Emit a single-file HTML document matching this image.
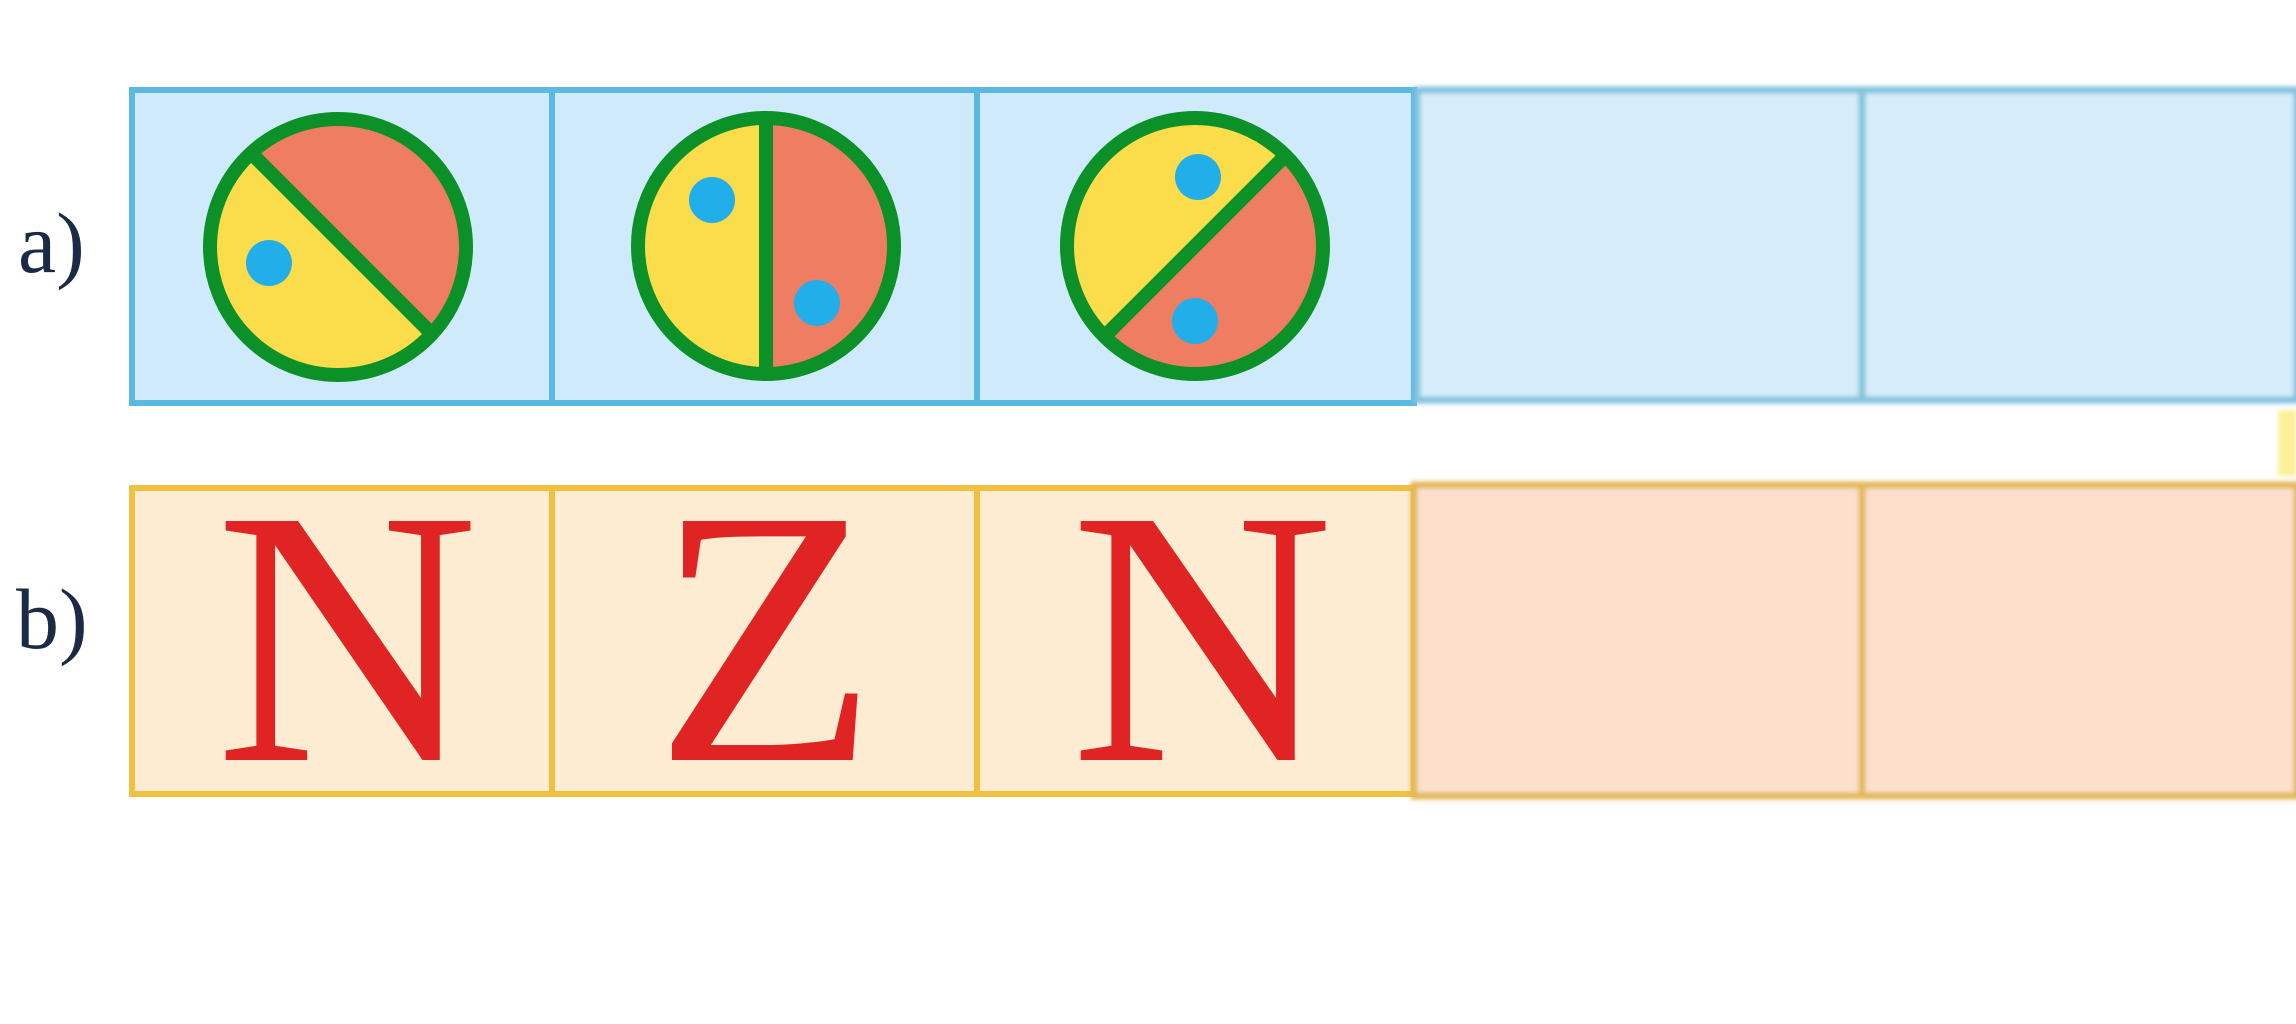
<!DOCTYPE html>
<html><head><meta charset="utf-8"><style>
html,body{margin:0;padding:0;background:#fff;}
svg{display:block;}
</style></head><body>
<svg width="2296" height="1024" viewBox="0 0 2296 1024" xmlns="http://www.w3.org/2000/svg">
<defs>
<clipPath id="c1"><circle cx="338" cy="247" r="128"/></clipPath>
<clipPath id="c2"><circle cx="766" cy="246" r="128"/></clipPath>
<clipPath id="c3"><circle cx="1195" cy="246" r="128"/></clipPath>
<filter id="blur"><feGaussianBlur stdDeviation="2"/></filter>
</defs>
<text x="18" y="272" font-family="Liberation Serif, serif" font-size="86" fill="#1c2b45">a)</text>
<text x="16" y="648" font-family="Liberation Serif, serif" font-size="86" fill="#1c2b45">b)</text>

<g>
<rect x="132" y="90" width="1282" height="313" fill="#cfeafb" stroke="#5bb8e0" stroke-width="6"/>
<line x1="552" y1="90" x2="552" y2="403" stroke="#5bb8e0" stroke-width="6"/>
<line x1="977" y1="90" x2="977" y2="403" stroke="#5bb8e0" stroke-width="6"/>
<g filter="url(#blur)">
<rect x="1417" y="90" width="880" height="310" fill="#d6edf9" stroke="#82c2de" stroke-width="7"/>
<line x1="1862" y1="90" x2="1862" y2="400" stroke="#82c2de" stroke-width="7"/>
</g>
</g>

<g>
<rect x="132" y="488" width="1282" height="306" fill="#fdebd2" stroke="#f0c040" stroke-width="6"/>
<line x1="552" y1="488" x2="552" y2="794" stroke="#f0c040" stroke-width="6"/>
<line x1="977" y1="488" x2="977" y2="794" stroke="#f0c040" stroke-width="6"/>
<g filter="url(#blur)">
<rect x="1414" y="485" width="883" height="311" fill="#fce0cc" stroke="#e3b854" stroke-width="7"/>
<line x1="1862" y1="485" x2="1862" y2="796" stroke="#e3b854" stroke-width="7"/>
</g>
<rect x="2278" y="410" width="18" height="66" fill="#fbf19a" filter="url(#blur)"/>
</g>

<g>
<g clip-path="url(#c1)">
<rect x="200" y="100" width="280" height="300" fill="#fbdc4a"/>
<polygon points="160,70 520,430 520,70" fill="#ef7d62"/>
</g>
<line x1="250" y1="152" x2="430" y2="332" stroke="#0b9128" stroke-width="14"/>
<circle cx="338" cy="247" r="128" fill="none" stroke="#0b9128" stroke-width="14"/>
<circle cx="269" cy="263" r="23" fill="#22aee9"/>
</g>

<g>
<g clip-path="url(#c2)">
<rect x="620" y="100" width="146" height="300" fill="#fbdc4a"/>
<rect x="766" y="100" width="160" height="300" fill="#ef7d62"/>
</g>
<line x1="766" y1="118" x2="766" y2="374" stroke="#0b9128" stroke-width="14"/>
<circle cx="766" cy="246" r="128" fill="none" stroke="#0b9128" stroke-width="14"/>
<circle cx="712" cy="200" r="23" fill="#22aee9"/>
<circle cx="817" cy="303" r="23" fill="#22aee9"/>
</g>

<g>
<g clip-path="url(#c3)">
<rect x="1050" y="100" width="300" height="300" fill="#fbdc4a"/>
<polygon points="1375,66 1015,426 1375,426" fill="#ef7d62"/>
</g>
<line x1="1285" y1="156" x2="1105" y2="336" stroke="#0b9128" stroke-width="14"/>
<circle cx="1195" cy="246" r="128" fill="none" stroke="#0b9128" stroke-width="14"/>
<circle cx="1198" cy="177" r="23" fill="#22aee9"/>
<circle cx="1195" cy="321" r="23" fill="#22aee9"/>
</g>

<g font-family="Liberation Serif, serif" font-size="365" fill="#e02424" text-anchor="middle">
<text x="347" y="760">N</text>
<text x="766" y="760">Z</text>
<text x="1202" y="760">N</text>
</g>
</svg>
</body></html>
